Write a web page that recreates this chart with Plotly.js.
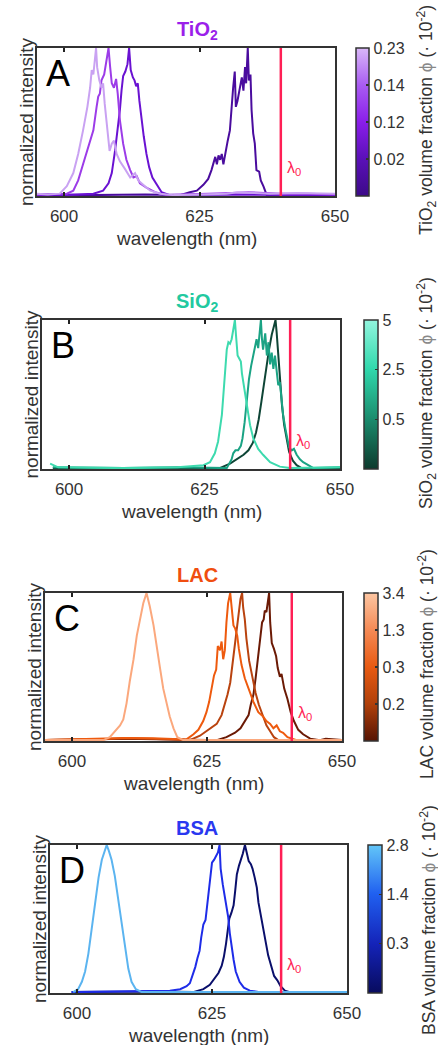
<!DOCTYPE html>
<html>
<head>
<meta charset="utf-8">
<script src="https://cdn.plot.ly/plotly-3.0.1.min.js"></script>
<style>html,body{margin:0;padding:0;background:#fff;}#chart{width:438px;height:1045px;}</style>
</head>
<body>
<div id="chart"></div>
<script>
// ---------------- DATA ----------------
// Panel A: TiO2 (volume fraction labels in 10^-2)
const tio2Fractions = ['0.02', '0.12', '0.14', '0.23'];
const tio2_002_wl  = [595, 605, 615, 621.4, 623.2, 624.5, 625.7, 626.6, 627.2, 627.5, 627.9, 628.2, 628.5, 628.8, 629.1, 629.4, 629.8, 630.2, 630.6, 630.9, 631.2, 631.5, 631.7, 632.0, 632.5, 632.8, 633.1, 633.4, 633.6, 633.9, 634.1, 634.4, 634.6, 634.9, 635.2, 635.5, 636.0, 636.3, 636.8, 637.4, 642, 650];
const tio2_002_int = [0.005, 0.0, 0.005, 0.0, 0.02, 0.03, 0.07, 0.11, 0.17, 0.21, 0.26, 0.21, 0.27, 0.24, 0.28, 0.21, 0.30, 0.37, 0.44, 0.60, 0.73, 0.84, 0.60, 0.64, 0.73, 0.80, 0.71, 0.87, 0.76, 1.00, 0.78, 0.82, 0.58, 0.42, 0.35, 0.17, 0.16, 0.10, 0.06, 0.0, 0.005, 0.0];
const tio2_012_wl  = [595, 600, 605.4, 607.2, 608.2, 608.8, 609.4, 609.9, 610.3, 610.6, 610.9, 611.3, 611.7, 612.0, 612.3, 612.7, 613.0, 613.3, 613.6, 613.9, 614.3, 614.7, 615.2, 615.7, 616.3, 617.1, 618.0, 619.5, 625, 650];
const tio2_012_int = [0.0, 0.0, 0.01, 0.03, 0.08, 0.15, 0.30, 0.44, 0.58, 0.71, 0.81, 0.84, 0.89, 1.00, 0.85, 0.80, 0.78, 0.74, 0.76, 0.64, 0.51, 0.40, 0.28, 0.19, 0.12, 0.07, 0.02, 0.0, 0.005, 0.0];
const tio2_014_wl  = [595, 598, 600.5, 601.7, 602.6, 603.5, 604.5, 605.4, 606.0, 606.3, 606.6, 606.9, 607.4, 607.7, 608.2, 608.5, 608.8, 609.2, 609.6, 609.9, 610.3, 610.9, 611.5, 612.2, 612.8, 613.4, 614.0, 615.2, 616.8, 618.9, 625, 631, 634, 640, 645, 650];
const tio2_014_int = [0.005, 0.005, 0.01, 0.03, 0.10, 0.21, 0.33, 0.44, 0.60, 0.67, 0.69, 0.78, 0.82, 0.89, 1.00, 0.87, 0.76, 0.73, 0.79, 0.69, 0.51, 0.35, 0.24, 0.17, 0.12, 0.13, 0.08, 0.05, 0.02, 0.0, 0.005, 0.015, 0.02, 0.01, 0.01, 0.005];
const tio2_023_wl  = [595, 597, 599.2, 600.5, 601.7, 602.6, 603.5, 604.3, 604.8, 605.1, 605.4, 605.9, 606.1, 606.5, 606.9, 607.2, 607.5, 607.9, 608.4, 608.8, 609.2, 609.7, 610.3, 611.2, 612.2, 613.1, 613.7, 614.6, 615.9, 617.7, 620.2, 625, 630, 632, 635, 638, 643, 650];
const tio2_023_int = [0.01, 0.005, 0.01, 0.06, 0.15, 0.28, 0.44, 0.60, 0.73, 0.85, 0.82, 1.00, 0.87, 0.78, 0.73, 0.76, 0.62, 0.46, 0.30, 0.35, 0.37, 0.28, 0.23, 0.18, 0.12, 0.15, 0.10, 0.07, 0.03, 0.01, 0.0, 0.005, 0.01, 0.02, 0.015, 0.01, 0.015, 0.01];

// Panel B: SiO2
const sio2Fractions = ['0.5', '2.5', '5'];
const sio2_05_wl  = [597, 615, 627.8, 629.7, 630.9, 632.2, 633.1, 633.9, 634.5, 635.0, 635.5, 636.0, 636.5, 636.9, 637.4, 637.8, 638.1, 638.3, 638.6, 638.9, 639.3, 639.7, 640.2, 640.6, 641.3, 642.0, 642.9, 650];
const sio2_05_int = [0.0, 0.0, 0.0, 0.03, 0.06, 0.09, 0.12, 0.17, 0.24, 0.33, 0.45, 0.58, 0.69, 0.80, 0.90, 0.97, 1.00, 0.92, 0.76, 0.60, 0.42, 0.29, 0.18, 0.11, 0.05, 0.02, 0.0, 0.0];
const sio2_25_wl  = [597, 610, 620, 629.1, 630.0, 630.3, 630.7, 631.2, 631.7, 632.0, 632.4, 632.8, 633.2, 633.6, 634.0, 634.4, 634.6, 634.9, 635.2, 635.4, 635.6, 635.8, 636.2, 636.5, 636.8, 637.1, 637.4, 637.7, 638.0, 638.3, 638.6, 638.9, 639.2, 639.5, 639.9, 640.3, 640.6, 641.1, 641.5, 642.0, 642.6, 643.2, 644.2, 645.1, 650];
const sio2_25_int = [0.005, 0.0, 0.005, 0.0, 0.06, 0.10, 0.12, 0.12, 0.15, 0.20, 0.31, 0.47, 0.60, 0.69, 0.76, 0.83, 0.87, 0.81, 0.91, 1.00, 0.87, 0.80, 0.91, 0.76, 0.85, 0.70, 0.78, 0.67, 0.76, 0.65, 0.56, 0.58, 0.47, 0.36, 0.27, 0.19, 0.14, 0.12, 0.13, 0.09, 0.06, 0.04, 0.02, 0.0, 0.005];
const sio2_5_wl   = [596.5, 597, 598, 610, 620, 624.8, 626.0, 626.9, 627.5, 628.2, 628.5, 628.8, 629.1, 629.4, 629.7, 630.0, 630.3, 630.6, 630.8, 631.1, 631.4, 631.7, 631.9, 632.3, 632.8, 633.4, 634.0, 634.9, 635.8, 637.1, 638.9, 640.8, 650];
const sio2_5_int  = [0.03, 0.02, 0.005, 0.0, 0.005, 0.02, 0.04, 0.10, 0.18, 0.36, 0.51, 0.67, 0.80, 0.85, 0.84, 0.87, 0.94, 1.00, 0.90, 0.76, 0.74, 0.72, 0.64, 0.55, 0.42, 0.29, 0.20, 0.13, 0.09, 0.04, 0.01, 0.0, 0.005];

// Panel C: LAC
const lacFractions = ['0.2', '0.3', '1.3', '3.4'];
const lac_02_wl  = [595, 610, 625, 626.8, 628.6, 630.2, 631.2, 632.0, 632.7, 633.1, 633.6, 634.0, 634.4, 634.7, 634.9, 635.2, 635.5, 635.7, 636.0, 636.2, 636.5, 636.7, 637.0, 637.4, 637.8, 638.1, 638.5, 638.8, 639.3, 639.9, 640.5, 641.1, 641.9, 642.8, 644.1, 645.9, 647, 650];
const lac_02_int = [0.0, 0.01, 0.0, 0.0, 0.02, 0.05, 0.08, 0.13, 0.17, 0.24, 0.31, 0.42, 0.55, 0.66, 0.73, 0.80, 0.82, 0.88, 0.87, 0.93, 1.00, 0.80, 0.66, 0.62, 0.57, 0.49, 0.43, 0.45, 0.35, 0.28, 0.19, 0.13, 0.07, 0.04, 0.01, 0.0, 0.01, 0.0];
const lac_03_wl  = [595, 605, 610, 615, 621.8, 623.7, 625.6, 626.8, 627.7, 628.3, 628.8, 629.3, 629.7, 630.2, 630.6, 630.9, 631.2, 631.5, 631.7, 632.0, 632.3, 632.8, 633.4, 634.0, 634.6, 635.3, 636.0, 636.7, 637.4, 638.2, 650];
const lac_03_int = [0.0, 0.005, 0.015, 0.01, 0.0, 0.03, 0.08, 0.11, 0.17, 0.24, 0.31, 0.39, 0.51, 0.66, 0.78, 0.89, 0.96, 1.00, 0.90, 0.82, 0.69, 0.54, 0.42, 0.32, 0.24, 0.17, 0.10, 0.06, 0.02, 0.0, 0.0];
const lac_13_wl  = [595, 600, 605, 610, 615, 620, 621.2, 622.5, 623.4, 624.3, 624.9, 625.4, 625.9, 626.3, 626.7, 627.0, 627.4, 627.7, 628.0, 628.3, 628.6, 628.9, 629.3, 629.6, 629.9, 630.2, 630.6, 630.9, 631.4, 632.0, 632.7, 633.6, 634.5, 635.4, 636.0, 636.7, 637.3, 637.9, 638.5, 639.1, 639.9, 640.7, 641.6, 650];
const lac_13_int = [0.0, 0.005, 0.01, 0.015, 0.012, 0.005, 0.005, 0.04, 0.07, 0.13, 0.19, 0.26, 0.35, 0.44, 0.48, 0.64, 0.61, 0.67, 0.55, 0.61, 0.80, 0.93, 1.00, 0.86, 0.78, 0.76, 0.71, 0.62, 0.51, 0.42, 0.35, 0.26, 0.19, 0.16, 0.13, 0.11, 0.08, 0.10, 0.06, 0.05, 0.02, 0.01, 0.0, 0.0];
const lac_34_wl  = [595, 603, 605.8, 607.0, 608.0, 608.9, 609.5, 610.1, 610.7, 611.4, 612.0, 612.6, 613.2, 613.8, 614.4, 615.1, 615.7, 616.3, 616.9, 617.5, 618.1, 618.8, 619.5, 620.6, 650];
const lac_34_int = [0.0, 0.0, 0.0, 0.02, 0.06, 0.10, 0.14, 0.25, 0.40, 0.55, 0.71, 0.82, 0.93, 1.00, 0.91, 0.78, 0.62, 0.49, 0.35, 0.26, 0.16, 0.08, 0.02, 0.0, 0.0];

// Panel D: BSA
const bsaFractions = ['0.3', '1.4', '2.8'];
const bsa_03_wl  = [599, 615, 621.5, 623.4, 624.6, 625.4, 626.2, 626.8, 627.2, 627.6, 627.9, 628.2, 628.6, 629.0, 629.3, 629.6, 630.0, 630.4, 630.7, 631.1, 631.4, 631.8, 632.2, 632.5, 632.9, 633.3, 633.6, 634.1, 634.5, 635.0, 635.4, 635.9, 636.5, 637.1, 637.7, 638.5, 639.4, 650];
const bsa_03_int = [0.0, 0.005, 0.0, 0.02, 0.05, 0.09, 0.13, 0.18, 0.24, 0.33, 0.43, 0.50, 0.54, 0.59, 0.69, 0.80, 0.86, 0.90, 0.94, 1.00, 0.95, 0.89, 0.87, 0.84, 0.78, 0.71, 0.61, 0.50, 0.42, 0.33, 0.25, 0.18, 0.11, 0.08, 0.04, 0.01, 0.0, 0.0];
const bsa_14_wl  = [599, 610, 617.2, 619.1, 620.3, 620.9, 621.4, 621.9, 622.3, 622.7, 623.0, 623.4, 623.8, 624.1, 624.4, 624.7, 625.0, 625.4, 625.7, 626.1, 626.4, 626.6, 627.0, 627.3, 627.7, 628.0, 628.3, 628.6, 629.0, 629.4, 630.1, 630.9, 632.0, 633.9, 650];
const bsa_14_int = [0.0, 0.005, 0.01, 0.02, 0.04, 0.06, 0.11, 0.17, 0.23, 0.28, 0.37, 0.46, 0.49, 0.58, 0.69, 0.80, 0.88, 0.90, 0.92, 0.95, 1.00, 0.84, 0.73, 0.67, 0.59, 0.51, 0.40, 0.31, 0.22, 0.14, 0.07, 0.03, 0.01, 0.0, 0.0];
const bsa_28_wl  = [599.3, 600.2, 600.9, 601.5, 602.1, 602.7, 603.3, 604.0, 604.6, 605.1, 605.5, 605.9, 606.4, 607.0, 607.6, 608.3, 608.9, 609.5, 610.1, 610.9, 612.0, 650];
const bsa_28_int = [0.0, 0.02, 0.07, 0.14, 0.26, 0.42, 0.61, 0.78, 0.90, 0.96, 1.00, 0.96, 0.90, 0.79, 0.64, 0.46, 0.30, 0.16, 0.07, 0.02, 0.0, 0.0];

// laser wavelength lambda_0 per panel (nm)
const lambda0 = [640.0, 640.8, 640.7, 637.8];
const panelNames = ['TiO<sub>2</sub>', 'SiO<sub>2</sub>', 'LAC', 'BSA'];
const panelLetters = ['A', 'B', 'C', 'D'];
const xTicks = [600, 625, 650];

// ---------------- STYLE / LAYOUT ----------------
const W = 438, H = 1045;
const FONT = 'Liberation Sans, Arial, Helvetica, sans-serif';
const TXT = '#333333';
const px = v => v / W;
const py = v => 1 - v / H;

const panels = [
  { xd: [37, 335], yd: [48, 196], cbx: 356, cbw: 13, titleY: 30, cbTitleX: 426, cbTitleY: 120,
    titleColor: '#9B1FEA',
    series: [[tio2_002_wl, tio2_002_int], [tio2_012_wl, tio2_012_int], [tio2_014_wl, tio2_014_int], [tio2_023_wl, tio2_023_int]],
    colors: ['#4A0C9E', '#6A12D2', '#9C3CE8', '#C9A2F2'],
    fr: tio2Fractions,
    cs: [[0, '#3C0A88'], [0.25, '#5A10B8'], [0.5, '#8A1EEA'], [0.75, '#A95CF2'], [1, '#D9B8F8']],
    cbLabel: 'TiO<sub>2</sub> volume fraction <span style="color:#888">\u03D5</span> (\u00B7 10<sup>-2</sup>)' },
  { xd: [42, 340], yd: [320, 469], cbx: 364, cbw: 14, titleY: 302, cbTitleX: 426, cbTitleY: 393,
    titleColor: '#22C9A0',
    series: [[sio2_05_wl, sio2_05_int], [sio2_25_wl, sio2_25_int], [sio2_5_wl, sio2_5_int]],
    colors: ['#0E4536', '#1AA384', '#3DDAAE'],
    fr: sio2Fractions,
    cs: [[0, '#0D3A2D'], [0.33, '#1A8A6C'], [0.67, '#30D8AC'], [1, '#92F5DE']],
    cbLabel: 'SiO<sub>2</sub> volume fraction <span style="color:#888">\u03D5</span> (\u00B7 10<sup>-2</sup>)' },
  { xd: [45, 342], yd: [593, 741], cbx: 364, cbw: 14, titleY: 575, cbTitleX: 426, cbTitleY: 664,
    titleColor: '#F04E10',
    series: [[lac_02_wl, lac_02_int], [lac_03_wl, lac_03_int], [lac_13_wl, lac_13_int], [lac_34_wl, lac_34_int]],
    colors: ['#6B1A05', '#B9430F', '#EE5A0E', '#FBA87D'],
    fr: lacFractions,
    cs: [[0, '#561404'], [0.25, '#B0400A'], [0.5, '#E85A12'], [0.75, '#F58A55'], [1, '#FDC6A2']],
    cbLabel: 'LAC volume fraction <span style="color:#888">\u03D5</span> (\u00B7 10<sup>-2</sup>)' },
  { xd: [50, 347], yd: [845, 993], cbx: 368, cbw: 14, titleY: 828, cbTitleX: 428, cbTitleY: 920,
    titleColor: '#2A38F0',
    series: [[bsa_03_wl, bsa_03_int], [bsa_14_wl, bsa_14_int], [bsa_28_wl, bsa_28_int]],
    colors: ['#0A0F6B', '#1E2CE8', '#5BB4F0'],
    fr: bsaFractions,
    cs: [[0, '#080B5E'], [0.33, '#1423B8'], [0.67, '#2060F0'], [1, '#62C6F8']],
    cbLabel: 'BSA volume fraction <span style="color:#888">\u03D5</span> (\u00B7 10<sup>-2</sup>)' }
];

const traces = [];
const layout = {
  width: W, height: H,
  margin: { l: 0, r: 0, t: 0, b: 0 },
  paper_bgcolor: '#ffffff', plot_bgcolor: '#ffffff',
  showlegend: false,
  font: { family: FONT, color: TXT, size: 17 },
  annotations: []
};

panels.forEach((p, i) => {
  const n = i + 1;
  const xa = n === 1 ? 'x' : 'x' + n;
  const ya = n === 1 ? 'y' : 'y' + n;
  const xk = n === 1 ? 'xaxis' : 'xaxis' + n;
  const yk = n === 1 ? 'yaxis' : 'yaxis' + n;

  layout[xk] = {
    domain: [px(p.xd[0]), px(p.xd[1])], anchor: ya,
    range: [595, 650], tickvals: xTicks, ticktext: xTicks.map(String),
    ticks: 'inside', ticklen: 4, tickwidth: 2, tickcolor: '#222',
    showline: true, linecolor: '#333', linewidth: 2, mirror: 'allticks',
    showgrid: false, zeroline: false, fixedrange: true,
    tickfont: { family: FONT, size: 17, color: TXT }, ticklabelstandoff: 4
  };
  layout[yk] = {
    domain: [py(p.yd[1]), py(p.yd[0])], anchor: xa,
    range: [-0.006, 1.0], showticklabels: false, ticks: '',
    showline: true, linecolor: '#333', linewidth: 2, mirror: true,
    showgrid: false, zeroline: false, fixedrange: true
  };

  // spectra
  p.series.forEach((s, k) => {
    traces.push({
      type: 'scatter', mode: 'lines', x: s[0], y: s[1], xaxis: xa, yaxis: ya,
      line: { color: p.colors[k], width: 2 }, hoverinfo: 'skip'
    });
  });
  // lambda0 line
  traces.push({
    type: 'scatter', mode: 'lines', x: [lambda0[i], lambda0[i]], y: [-0.01, 1.01],
    xaxis: xa, yaxis: ya, line: { color: '#FF1F55', width: 2.5 }, hoverinfo: 'skip'
  });
  // colorbar carrier
  const nS = p.fr.length;
  traces.push({
    type: 'scatter', mode: 'markers', x: [null], y: [null], xaxis: xa, yaxis: ya,
    marker: {
      size: 0, color: p.fr.map((_, k) => k + 1), cmin: 0, cmax: nS,
      colorscale: p.cs, showscale: true,
      colorbar: {
        x: px(p.cbx), xanchor: 'left', xpad: 0,
        y: py((p.yd[0] + p.yd[1]) / 2), yanchor: 'middle', ypad: 0,
        len: p.yd[1] - p.yd[0], lenmode: 'pixels',
        thickness: p.cbw, thicknessmode: 'pixels',
        outlinewidth: 1.5, outlinecolor: '#333',
        tickvals: p.fr.map((_, k) => k + 1), ticktext: p.fr,
        ticks: 'inside', ticklen: 3, tickcolor: '#333', tickwidth: 1.5,
        tickfont: { family: FONT, size: 16, color: TXT }
      }
    },
    hoverinfo: 'skip'
  });

  const ann = layout.annotations;
  // panel title
  ann.push({ xref: 'paper', yref: 'paper', x: px(197), y: py(p.titleY), xanchor: 'center', yanchor: 'middle',
    text: '<b>' + panelNames[i] + '</b>', showarrow: false,
    font: { family: FONT, size: 20, color: p.titleColor } });
  // letter
  ann.push({ xref: xa + ' domain', yref: ya + ' domain', x: 0.025, y: 0.98, xanchor: 'left', yanchor: 'top',
    text: panelLetters[i], showarrow: false, font: { family: FONT, size: 36, color: '#000' } });
  // lambda0 label
  ann.push({ xref: xa, yref: ya, x: lambda0[i] + 0.7, y: 0.18, xanchor: 'left', yanchor: 'middle',
    text: '\u03BB<sub>0</sub>', showarrow: false, font: { family: FONT, size: 16, color: '#FF1F55' } });
  // x title
  ann.push({ xref: 'paper', yref: 'paper', x: px((p.xd[0] + p.xd[1]) / 2), y: py(p.yd[1] + 42),
    xanchor: 'center', yanchor: 'middle', text: 'wavelength (nm)', showarrow: false,
    font: { family: FONT, size: 19, color: TXT } });
  // y title
  ann.push({ xref: 'paper', yref: 'paper', x: px(p.xd[0] - 11), y: py((p.yd[0] + p.yd[1]) / 2),
    xanchor: 'center', yanchor: 'middle', textangle: -90, text: 'normalized intensity', showarrow: false,
    font: { family: FONT, size: 19, color: TXT } });
  // colorbar title
  ann.push({ xref: 'paper', yref: 'paper', x: px(p.cbTitleX), y: py(p.cbTitleY),
    xanchor: 'center', yanchor: 'middle', textangle: -90, text: p.cbLabel, showarrow: false,
    font: { family: FONT, size: 17.5, color: TXT } });
});

Plotly.newPlot('chart', traces, layout, { staticPlot: true, displayModeBar: false });
</script>
</body>
</html>
